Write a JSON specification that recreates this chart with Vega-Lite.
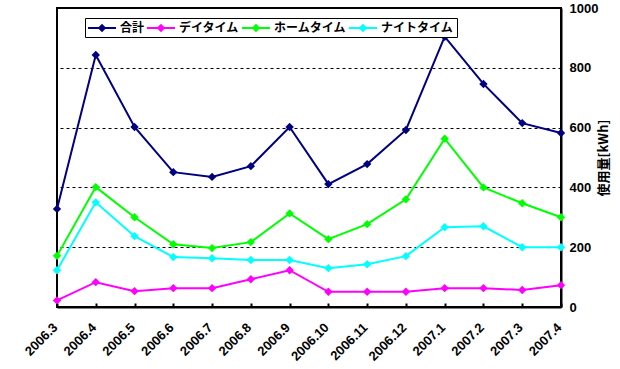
{
  "$schema": "https://vega.github.io/schema/vega-lite/v6.json",
  "width": 504,
  "height": 299,
  "autosize": {"type": "none"},
  "padding": {"left": 57, "top": 8, "right": 59, "bottom": 62},
  "background": "white",
  "config": {
    "view": {"stroke": "black", "strokeWidth": 2},
    "font": "Liberation Sans",
    "legend": {"strokeWidth": 1}
  },
  "data": {
    "values": [
      {"month": "2006.3", "series": "合計", "value": 328},
      {"month": "2006.4", "series": "合計", "value": 843},
      {"month": "2006.5", "series": "合計", "value": 602},
      {"month": "2006.6", "series": "合計", "value": 451},
      {"month": "2006.7", "series": "合計", "value": 435},
      {"month": "2006.8", "series": "合計", "value": 471},
      {"month": "2006.9", "series": "合計", "value": 602},
      {"month": "2006.10", "series": "合計", "value": 411},
      {"month": "2006.11", "series": "合計", "value": 478},
      {"month": "2006.12", "series": "合計", "value": 592},
      {"month": "2007.1", "series": "合計", "value": 904},
      {"month": "2007.2", "series": "合計", "value": 746},
      {"month": "2007.3", "series": "合計", "value": 615},
      {"month": "2007.4", "series": "合計", "value": 582},
      {"month": "2006.3", "series": "デイタイム", "value": 22},
      {"month": "2006.4", "series": "デイタイム", "value": 83},
      {"month": "2006.5", "series": "デイタイム", "value": 53},
      {"month": "2006.6", "series": "デイタイム", "value": 63},
      {"month": "2006.7", "series": "デイタイム", "value": 63},
      {"month": "2006.8", "series": "デイタイム", "value": 93},
      {"month": "2006.9", "series": "デイタイム", "value": 123},
      {"month": "2006.10", "series": "デイタイム", "value": 51},
      {"month": "2006.11", "series": "デイタイム", "value": 51},
      {"month": "2006.12", "series": "デイタイム", "value": 51},
      {"month": "2007.1", "series": "デイタイム", "value": 63},
      {"month": "2007.2", "series": "デイタイム", "value": 63},
      {"month": "2007.3", "series": "デイタイム", "value": 57},
      {"month": "2007.4", "series": "デイタイム", "value": 73},
      {"month": "2006.3", "series": "ホームタイム", "value": 171},
      {"month": "2006.4", "series": "ホームタイム", "value": 401},
      {"month": "2006.5", "series": "ホームタイム", "value": 300},
      {"month": "2006.6", "series": "ホームタイム", "value": 210},
      {"month": "2006.7", "series": "ホームタイム", "value": 197},
      {"month": "2006.8", "series": "ホームタイム", "value": 217},
      {"month": "2006.9", "series": "ホームタイム", "value": 313},
      {"month": "2006.10", "series": "ホームタイム", "value": 227},
      {"month": "2006.11", "series": "ホームタイム", "value": 277},
      {"month": "2006.12", "series": "ホームタイム", "value": 360},
      {"month": "2007.1", "series": "ホームタイム", "value": 563},
      {"month": "2007.2", "series": "ホームタイム", "value": 400},
      {"month": "2007.3", "series": "ホームタイム", "value": 347},
      {"month": "2007.4", "series": "ホームタイム", "value": 300},
      {"month": "2006.3", "series": "ナイトタイム", "value": 123},
      {"month": "2006.4", "series": "ナイトタイム", "value": 350},
      {"month": "2006.5", "series": "ナイトタイム", "value": 237},
      {"month": "2006.6", "series": "ナイトタイム", "value": 167},
      {"month": "2006.7", "series": "ナイトタイム", "value": 163},
      {"month": "2006.8", "series": "ナイトタイム", "value": 157},
      {"month": "2006.9", "series": "ナイトタイム", "value": 157},
      {"month": "2006.10", "series": "ナイトタイム", "value": 130},
      {"month": "2006.11", "series": "ナイトタイム", "value": 143},
      {"month": "2006.12", "series": "ナイトタイム", "value": 170},
      {"month": "2007.1", "series": "ナイトタイム", "value": 267},
      {"month": "2007.2", "series": "ナイトタイム", "value": 270},
      {"month": "2007.3", "series": "ナイトタイム", "value": 200},
      {"month": "2007.4", "series": "ナイトタイム", "value": 200}
    ]
  },
  "encoding": {
    "x": {
      "field": "month",
      "type": "ordinal",
      "sort": null,
      "scale": {"type": "point", "padding": 0},
      "axis": {
        "title": null,
        "labelAngle": -45,
        "labelAlign": "right",
        "labelBaseline": "middle",
        "labelPadding": 22,
        "labelOffset": -2,
        "labelFont": "Liberation Sans",
        "labelFontWeight": "bold",
        "labelFontSize": 13,
        "labelColor": "black",
        "domainColor": "black",
        "domainWidth": 2,
        "tickColor": "black",
        "tickWidth": 2,
        "tickSize": -4,
        "grid": false
      }
    },
    "y": {
      "field": "value",
      "type": "quantitative",
      "scale": {"domain": [0, 1000], "nice": false},
      "axis": {
        "orient": "right",
        "values": [0, 200, 400, 600, 800, 1000],
        "format": "d",
        "title": "使用量[kWh]",
        "titleFont": "Noto Sans CJK JP",
        "titleFontSize": 13,
        "titleFontWeight": "bold",
        "titleColor": "black",
        "titleAngle": 270,
        "titlePadding": 13,
        "labelFont": "Liberation Sans",
        "labelFontWeight": "bold",
        "labelFontSize": 13,
        "labelColor": "black",
        "labelPadding": 8,
        "ticks": false,
        "domainColor": "black",
        "domainWidth": 2,
        "grid": true,
        "gridColor": "black",
        "gridDash": [3, 3],
        "gridWidth": 1,
        "gridOpacity": 1
      }
    },
    "color": {
      "field": "series",
      "type": "nominal",
      "scale": {
        "domain": ["合計", "デイタイム", "ホームタイム", "ナイトタイム"],
        "range": ["#000080", "#FF00FF", "#00FF00", "#00FFFF"]
      },
      "legend": {
        "title": null,
        "orient": "none",
        "legendX": 28,
        "legendY": 10,
        "direction": "horizontal",
        "columns": 4,
        "symbolType": "M-1,-0.14L3,-0.14L3,0.14L-1,0.14Z M1,-0.6L1.6,0L1,0.6L0.4,0Z",
        "symbolSize": 196,
        "symbolStrokeWidth": 0,
        "symbolOpacity": 1,
        "labelFont": "Noto Sans CJK JP",
        "labelFontSize": 12,
        "labelFontWeight": "bold",
        "labelColor": "black",
        "labelOffset": 18,
        "columnPadding": 2,
        "padding": 3,
        "strokeColor": "black",
        "fillColor": "white",
        "cornerRadius": 0
      }
    }
  },
  "layer": [
    {
      "mark": {"type": "line", "strokeWidth": 2}
    },
    {
      "mark": {"type": "point", "shape": "diamond", "filled": true, "size": 70, "opacity": 1}
    }
  ]
}
